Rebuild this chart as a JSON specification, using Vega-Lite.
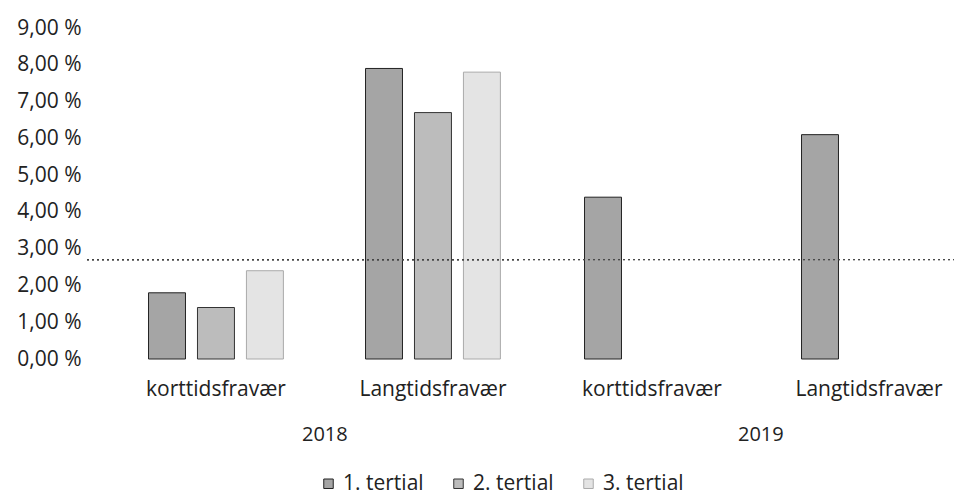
{
  "$schema": "https://vega.github.io/schema/vega-lite/v6.json",
  "background": "white",
  "padding": {"left": 16, "top": 17, "right": 0, "bottom": 28},
  "data": {"values": [
    {"year": "2018", "type": "korttidsfravær", "tertial": "1. tertial", "value": 0.018},
    {"year": "2018", "type": "korttidsfravær", "tertial": "2. tertial", "value": 0.014},
    {"year": "2018", "type": "korttidsfravær", "tertial": "3. tertial", "value": 0.024},
    {"year": "2018", "type": "Langtidsfravær", "tertial": "1. tertial", "value": 0.079},
    {"year": "2018", "type": "Langtidsfravær", "tertial": "2. tertial", "value": 0.067},
    {"year": "2018", "type": "Langtidsfravær", "tertial": "3. tertial", "value": 0.078},
    {"year": "2019", "type": "korttidsfravær", "tertial": "1. tertial", "value": 0.044},
    {"year": "2019", "type": "Langtidsfravær", "tertial": "1. tertial", "value": 0.061}
  ]},
  "facet": {
    "column": {
      "field": "year", "type": "nominal",
      "header": {"labelOrient": "bottom", "title": null, "labelFont": "Open Sans", "labelFontSize": 20, "labelColor": "#222", "labelPadding": 26, "labelAlign": "left"}
    }
  },
  "spacing": 0,
  "spec": {
    "width": 434,
    "height": 331,
    "layer": [
      {
        "mark": {"type": "bar", "strokeWidth": 1},
        "encoding": {
          "x": {
            "field": "type", "type": "nominal",
            "sort": ["korttidsfravær", "Langtidsfravær"],
            "scale": {"paddingInner": 0.207, "paddingOuter": 0.1035, "align": 1},
            "axis": {"title": null, "labelAngle": 0, "domain": false, "ticks": false, "labelPadding": 18, "labelFontSize": 21}
          },
          "xOffset": {
            "field": "tertial", "type": "nominal",
            "scale": {"paddingInner": 0.245, "paddingOuter": 0.38}
          },
          "y": {
            "field": "value", "type": "quantitative",
            "scale": {"domain": [0, 0.09], "nice": false},
            "axis": {"title": null, "labelExpr": "replace(format(datum.value * 100, '.2f'), '.', ',') + ' %'", "tickCount": 9, "labelOverlap": false, "labelBound": false, "grid": false, "domain": false, "ticks": false, "labelPadding": 3, "labelFontSize": 21}
          },
          "fill": {
            "field": "tertial", "type": "nominal",
            "scale": {"range": ["#a5a5a5", "#bcbcbc", "#e4e4e4"]},
            "legend": {"orient": "none", "legendX": 233, "legendY": 445, "direction": "horizontal", "title": null, "symbolType": "square", "symbolSize": 90, "symbolStrokeColor": "#555", "symbolStrokeWidth": 1, "labelFontSize": 21, "columnPadding": 24}
          },
          "stroke": {
            "field": "tertial", "type": "nominal",
            "scale": {"range": ["#222222", "#333333", "#aaaaaa"]},
            "legend": null
          }
        }
      },
      {
        "mark": {"type": "rule", "strokeDash": [2, 3], "color": "#444", "strokeWidth": 1},
        "encoding": {"y": {"datum": 0.027}}
      }
    ]
  },
  "config": {
    "view": {"stroke": null},
    "font": "Open Sans",
    "axis": {"labelFont": "Open Sans", "labelFontSize": 20, "labelColor": "#222", "labelOverlap": false},
    "axisY": {"labelOverlap": false},
    "legend": {"labelFont": "Open Sans", "labelColor": "#222"}
  }
}
